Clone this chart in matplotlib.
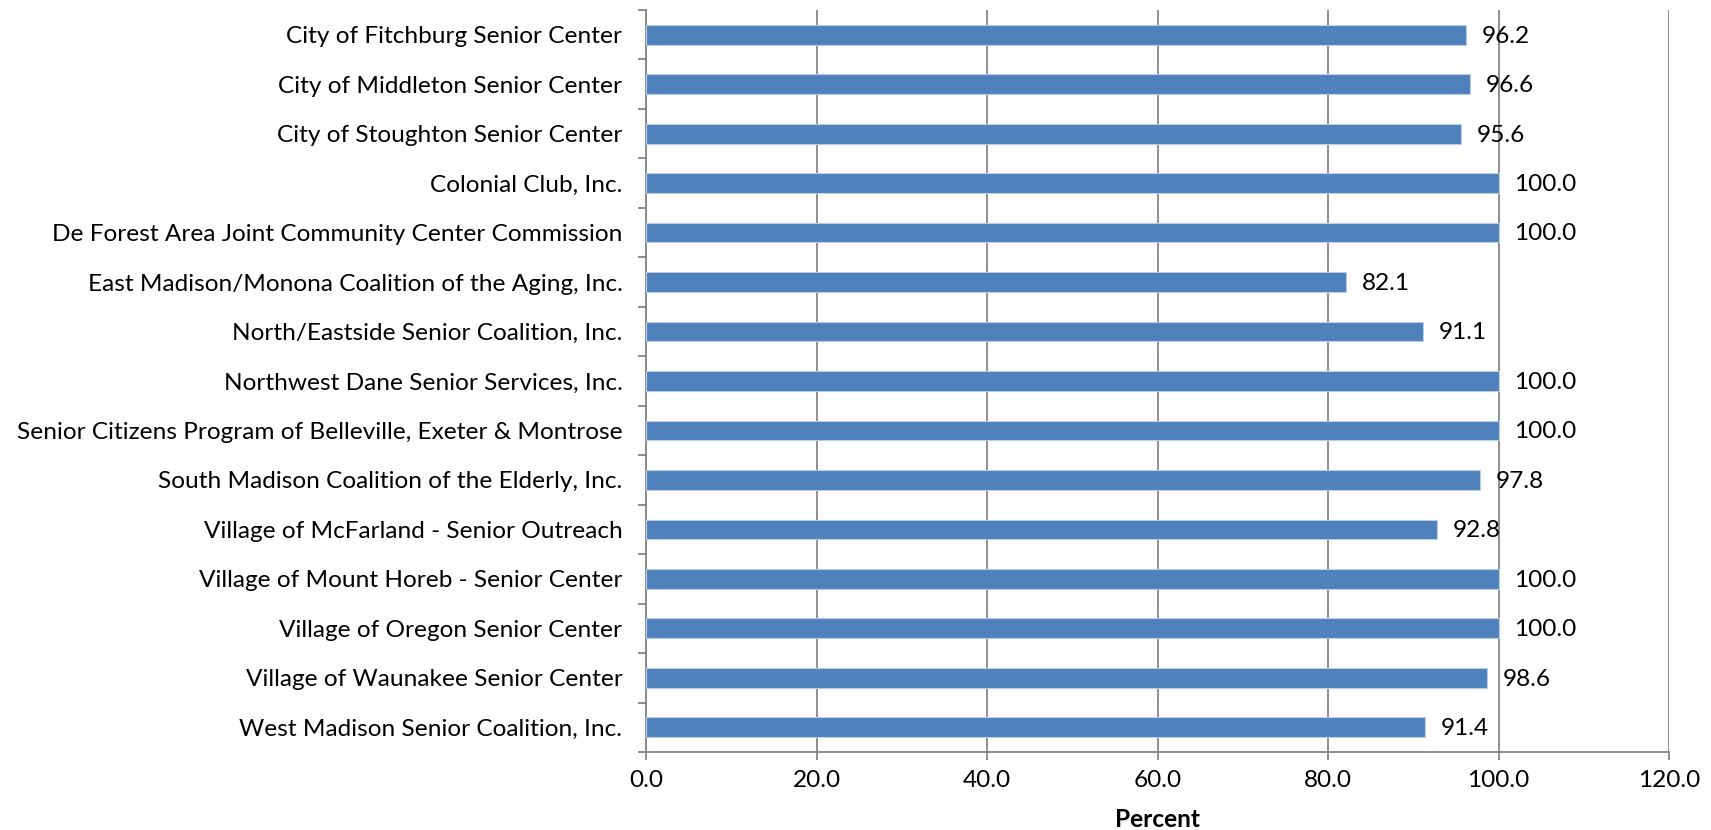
import matplotlib
matplotlib.use("Agg")
import matplotlib.pyplot as plt
import numpy as np

categories = [
    "City of Fitchburg Senior Center",
    "City of Middleton Senior Center",
    "City of Stoughton Senior Center",
    "Colonial Club, Inc.",
    "De Forest Area Joint Community Center Commission",
    "East Madison/Monona Coalition of the Aging, Inc.",
    "North/Eastside Senior Coalition, Inc.",
    "Northwest Dane Senior Services, Inc.",
    "Senior Citizens Program of Belleville, Exeter & Montrose",
    "South Madison Coalition of the Elderly, Inc.",
    "Village of McFarland - Senior Outreach",
    "Village of Mount Horeb - Senior Center",
    "Village of Oregon Senior Center",
    "Village of Waunakee Senior Center",
    "West Madison Senior Coalition, Inc.",
]
values = [96.2, 96.6, 95.6, 100.0, 100.0, 82.1, 91.1, 100.0, 100.0, 97.8, 92.8, 100.0, 100.0, 98.6, 91.4]
x_ticks = [0, 20, 40, 60, 80, 100, 120]

plt.rcParams['font.family'] = ['Lato', 'DejaVu Sans']

W, H = 1711, 830
fig = plt.figure(figsize=(W / 100, H / 100), dpi=100)
ax = fig.add_axes([646 / W, 1 - 752 / H, (1669 - 646) / W, (752 - 10) / H])

FS = 17.6
grid_c = "#868686"
y = np.arange(len(categories))
ax.barh(y, values, height=0.4, color="#4F81BD", edgecolor="#B9CDE5", linewidth=0.8, zorder=3)

ax.set_xlim(0, 120)
ax.set_ylim(len(categories) - 0.5, -0.5)
ax.set_xticks(x_ticks)
ax.set_xticklabels([f"{t:.1f}" for t in x_ticks], fontsize=FS)
ax.set_yticks(y)
ax.set_yticklabels(categories, fontsize=FS)
ax.tick_params(axis='y', length=0, pad=17)
ax.set_yticks(np.arange(len(categories) + 1) - 0.5, minor=True)
ax.tick_params(axis='y', which='minor', length=6, color=grid_c, width=1.3)
ax.tick_params(axis='x', length=6, color=grid_c, width=1.3, pad=7)

ax.grid(axis='x', color=grid_c, linewidth=1.3, zorder=0)
ax.set_axisbelow(True)
for s in ['top', 'right']:
    ax.spines[s].set_visible(False)
for s in ['left', 'bottom']:
    ax.spines[s].set_color(grid_c)
    ax.spines[s].set_linewidth(1.3)

for yi, v in zip(y, values):
    ax.annotate(f"{v:.1f}", xy=(v, yi), xytext=(11.5, -1), textcoords="offset points",
                va="center", ha="left", fontsize=FS, zorder=4)

ax.set_xlabel("Percent", fontsize=FS, fontweight="bold", labelpad=12)

fig.savefig("out.png", dpi=100)
